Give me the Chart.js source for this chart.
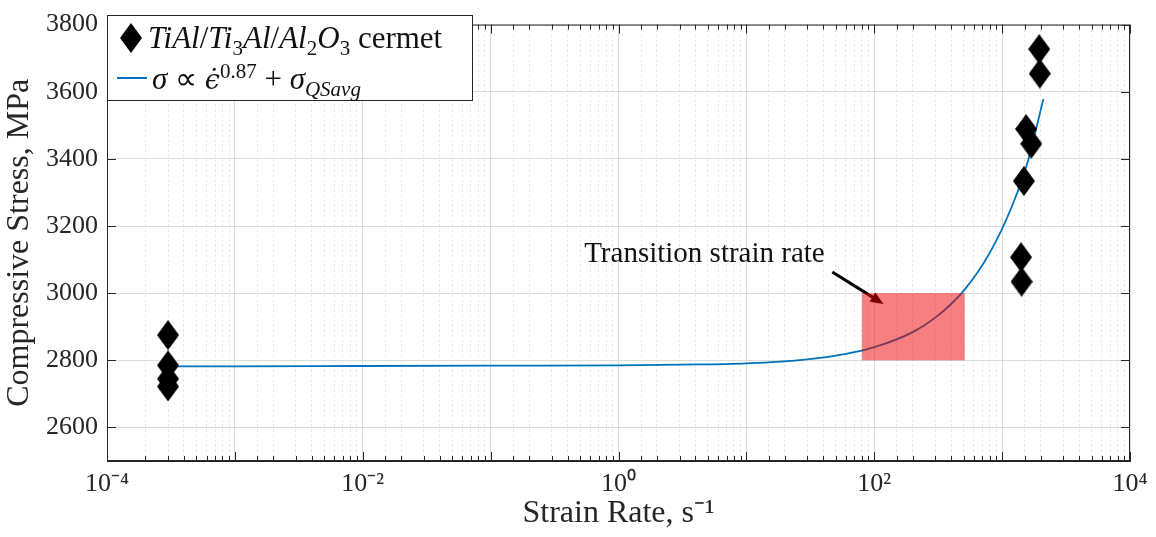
<!DOCTYPE html>
<html>
<head>
<meta charset="utf-8">
<title>Compressive stress vs strain rate</title>
<script src="https://cdn.jsdelivr.net/npm/chart.js@4.4.0/dist/chart.umd.min.js"></script>
<style>
  body { margin: 0; background: #fff; }
  #wrap { position: relative; width: 1156px; height: 537px; }
  #legend {
    position: absolute; left: 107px; top: 15px; width: 366px; height: 86px;
    box-sizing: border-box; border: 1px solid #262626; background: #fff;
    font-family: "Liberation Serif", serif; font-size: 31px; color: #111;
  }
  #legend .row { position: absolute; left: 0; height: 40px; display: flex; align-items: center; white-space: nowrap; }
  #legend .row1 { top: 2px; }
  #legend .row2 { top: 42px; }
  #legend sub, #legend sup { font-size: 21px; line-height: 0; }
  #legend .dot { font-family: "DejaVu Serif", serif; font-style: italic; font-size: 27px; }
  #legend .swatch { display: inline-block; width: 30px; height: 2px; background: #0072BD; margin: 0 5px 0 9px; }
  #legend svg { margin: 0 6px 0 12px; }
</style>
</head>
<body>
<div id="wrap">
  <canvas id="stressChart" width="1156" height="537"></canvas>
  <div id="legend">
    <div class="row row1"><svg width="22" height="30"><polygon points="11,0 22,15 11,30 0,15" fill="#000"/></svg><span><i>TiAl</i>/<i>Ti</i><sub>3</sub><i>Al</i>/<i>Al</i><sub>2</sub><i>O</i><sub>3</sub> cermet</span></div>
    <div class="row row2"><span class="swatch"></span><span><i>σ</i> ∝ <span class="dot">ϵ̇</span><sup>0.87</sup> + <i>σ</i><sub><i>QSavg</i></sub></span></div>
  </div>
</div>
<script>
// measured points (strain rate in 1/s, stress in MPa)
const pointRates = [3e-4, 3e-4, 3e-4, 3e-4, 1950, 1970, 1540, 1690, 1480, 1405, 1420];
const pointStress = [2875, 2785, 2745, 2722, 3727, 3654, 3489, 3445, 3334, 3107, 3034];

// fitted curve
const fitRates = [3e-4, 1e-3, 1e-2, 1e-1, 1, 3, 10, 30, 60, 100, 200, 300, 500, 800, 1200, 1600, 2100];
const fitStress = [2782, 2782, 2783, 2784, 2785, 2787, 2791, 2803, 2819, 2839, 2884, 2927, 3007, 3120, 3261, 3397, 3578];

// transition region box and label
const transitionRates = [80, 510];
const transitionStress = [2800, 3000];
const arrowFrom = [47, 3063];
const arrowTo = [118, 2968];
const labelAt = [4.7, 3116];

const yTicks = [2600, 2800, 3000, 3200, 3400, 3600, 3800];
const xLabelExps = [-4, -2, 0, 2, 4];

const serif = '"Liberation Serif", "Times New Roman", serif';
const supDigits = { '-': '\u207B', '0': '\u2070', '1': '\u00B9', '2': '\u00B2', '3': '\u00B3', '4': '\u2074' };

function toSup(n) {
    return String(n).split('').map(c => supDigits[c]).join('');
}

function isDecade(v) {
    const e = Math.log10(v);
    return Math.abs(e - Math.round(e)) < 1e-6;
}

// elongated diamond marker
const diamond = document.createElement('canvas');
diamond.width = 22;
diamond.height = 30;
const dctx = diamond.getContext('2d');
dctx.fillStyle = '#000';
dctx.beginPath();
dctx.moveTo(11, 0); dctx.lineTo(22, 15); dctx.lineTo(11, 30); dctx.lineTo(0, 15);
dctx.closePath();
dctx.fill();

const annotations = {
    id: 'annotations',
    afterDatasetsDraw(chart) {
        const { ctx, scales: { x, y }, chartArea } = chart;
        ctx.save();
        // label
        ctx.font = '29px ' + serif;
        ctx.fillStyle = '#111';
        ctx.textAlign = 'center';
        ctx.textBaseline = 'middle';
        ctx.fillText('Transition strain rate', x.getPixelForValue(labelAt[0]), y.getPixelForValue(labelAt[1]));
        // arrow
        const x0 = x.getPixelForValue(arrowFrom[0]), y0 = y.getPixelForValue(arrowFrom[1]);
        const x1 = x.getPixelForValue(arrowTo[0]), y1 = y.getPixelForValue(arrowTo[1]);
        const ang = Math.atan2(y1 - y0, x1 - x0);
        ctx.strokeStyle = '#000';
        ctx.lineWidth = 3;
        ctx.beginPath();
        ctx.moveTo(x0, y0);
        ctx.lineTo(x1 - 10 * Math.cos(ang), y1 - 10 * Math.sin(ang));
        ctx.stroke();
        ctx.fillStyle = '#000';
        ctx.beginPath();
        ctx.moveTo(x1, y1);
        ctx.lineTo(x1 - 14 * Math.cos(ang - 0.4), y1 - 14 * Math.sin(ang - 0.4));
        ctx.lineTo(x1 - 14 * Math.cos(ang + 0.4), y1 - 14 * Math.sin(ang + 0.4));
        ctx.closePath();
        ctx.fill();
        // box
        const bx0 = x.getPixelForValue(transitionRates[0]);
        const bx1 = x.getPixelForValue(transitionRates[1]);
        const by0 = y.getPixelForValue(transitionStress[1]);
        const by1 = y.getPixelForValue(transitionStress[0]);
        ctx.fillStyle = 'rgba(240, 0, 0, 0.5)';
        ctx.fillRect(bx0, by0, bx1 - bx0, by1 - by0);
        // frame with inward ticks, like the original figure
        ctx.strokeStyle = '#262626';
        ctx.lineWidth = 1;
        ctx.strokeRect(chartArea.left + 0.5, chartArea.top + 0.5, chartArea.width - 1, chartArea.height - 1);
        ctx.beginPath();
        x.ticks.forEach(t => {
            const px = Math.round(x.getPixelForValue(t.value)) + 0.5;
            const len = isDecade(t.value) ? 9 : 5;
            ctx.moveTo(px, chartArea.bottom); ctx.lineTo(px, chartArea.bottom - len);
            ctx.moveTo(px, chartArea.top); ctx.lineTo(px, chartArea.top + len);
        });
        y.ticks.forEach(t => {
            const py = Math.round(y.getPixelForValue(t.value)) + 0.5;
            ctx.moveTo(chartArea.left, py); ctx.lineTo(chartArea.left + 9, py);
            ctx.moveTo(chartArea.right, py); ctx.lineTo(chartArea.right - 9, py);
        });
        ctx.stroke();
        ctx.restore();
    }
};

function drawChart() {
    const ctx = document.getElementById('stressChart').getContext('2d');

    return new Chart(ctx, {
        type: 'scatter',
        data: {
            datasets: [{
                label: 'TiAl/Ti3Al/Al2O3 cermet',
                data: pointRates.map((r, i) => ({ x: r, y: pointStress[i] })),
                pointStyle: diamond,
                pointRadius: 11,
                order: 1
            }, {
                label: 'fit',
                data: fitRates.map((r, i) => ({ x: r, y: fitStress[i] })),
                showLine: true,
                borderColor: '#0072BD',
                borderWidth: 1.8,
                pointRadius: 0,
                cubicInterpolationMode: 'monotone',
                order: 2
            }]
        },
        options: {
            responsive: false,
            animation: false,
            layout: { padding: { top: 15, right: 26, left: 0, bottom: 0 } },
            plugins: {
                legend: { display: false },
                tooltip: { enabled: false }
            },
            scales: {
                x: {
                    type: 'logarithmic',
                    min: 1e-4,
                    max: 1e4,
                    afterFit: (scale) => { scale.height = 76; },
                    border: {
                        color: '#262626',
                        dash: (c) => (c.tick && isDecade(c.tick.value)) ? [] : [2, 3]
                    },
                    grid: {
                        drawTicks: false,
                        color: (c) => (c.tick && isDecade(c.tick.value)) ? '#dcdcdc' : '#e2e2e2'
                    },
                    ticks: {
                        autoSkip: false,
                        maxRotation: 0,
                        padding: 8,
                        color: '#262626',
                        font: { family: serif, size: 26 },
                        callback: (v) => {
                            if (!isDecade(v)) return '';
                            const e = Math.round(Math.log10(v));
                            return xLabelExps.includes(e) ? '10' + toSup(e) : '';
                        }
                    },
                    title: {
                        display: true,
                        text: 'Strain Rate, s\u207B\u00B9',
                        color: '#262626',
                        font: { family: serif, size: 32 },
                        padding: { top: 0 }
                    }
                },
                y: {
                    min: 2500,
                    max: 3800,
                    afterFit: (scale) => { scale.width = 107; },
                    afterBuildTicks: (scale) => {
                        scale.ticks = yTicks.map(v => ({ value: v }));
                    },
                    border: { color: '#262626' },
                    grid: { drawTicks: false, color: '#dcdcdc' },
                    ticks: {
                        padding: 9,
                        color: '#262626',
                        font: { family: serif, size: 26 },
                        callback: (v) => String(v)
                    },
                    title: {
                        display: true,
                        text: 'Compressive Stress, MPa',
                        color: '#262626',
                        font: { family: serif, size: 32 },
                        padding: { top: 0, bottom: 4 }
                    }
                }
            }
        },
        plugins: [annotations]
    });
}

document.fonts.load('26px "Liberation Serif"').then(drawChart, drawChart);
</script>
</body>
</html>
